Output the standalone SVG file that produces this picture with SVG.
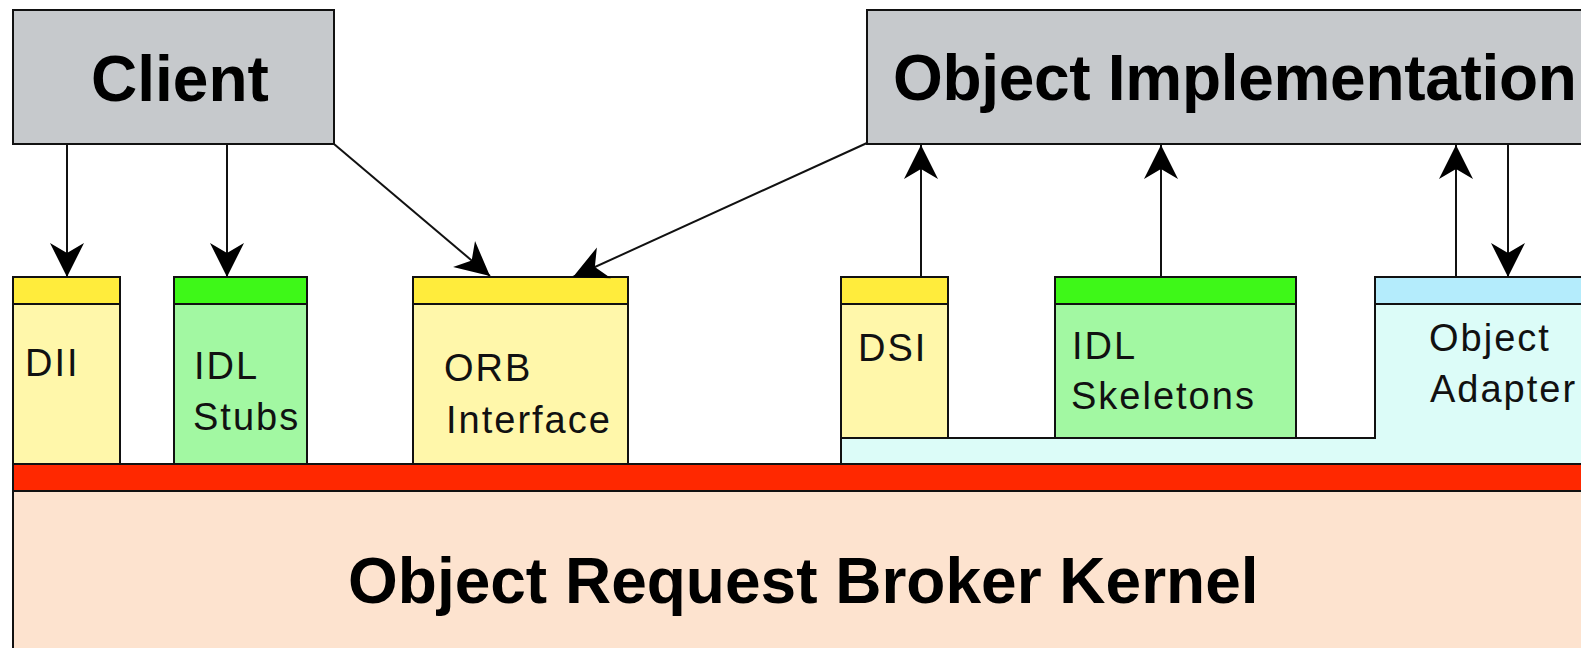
<svg xmlns="http://www.w3.org/2000/svg" width="1581" height="648" viewBox="0 0 1581 648">
<style>
.big{font-family:"Liberation Sans",Arial,sans-serif;font-weight:bold;font-size:64px;fill:#000}
.sm{font-family:"Liberation Sans",Arial,sans-serif;font-size:38px;letter-spacing:2px;fill:#111}
.bx{stroke:#111;stroke-width:2}
.gray{fill:#c6c9cc}
.yb{fill:#ffec3c}.yl{fill:#fff7aa}
.gb{fill:#3ef818}.gl{fill:#a2f8a2}
.cb{fill:#b4ecfc}.cl{fill:#dcfcf8}
.ln{stroke:#111;stroke-width:2;fill:none;marker-end:url(#ah)}
</style>
<defs>
<marker id="ah" markerUnits="userSpaceOnUse" markerWidth="40" markerHeight="40" viewBox="-36 -20 40 40" refX="0" refY="0" orient="auto">
<path d="M0,0 L-34,-17 L-24,0 L-34,17 Z" fill="#000"/>
</marker>
</defs>
<rect width="1581" height="648" fill="#fff"/>

<g id="kernel">
<rect class="bx" x="13" y="491" width="1580" height="170" fill="#fde3cf"/>
<text class="big" x="348" y="603">Object Request Broker Kernel</text>
</g>
<g id="orb-bar">
<rect class="bx" x="13" y="464" width="1580" height="27" fill="#ff2800"/>
</g>

<g id="object-adapter">
<path class="bx cl" d="M841,464 V438 H1375 V277 H1595 V464 Z"/>
<rect class="bx cb" x="1375" y="277" width="220" height="27"/>
<text class="sm" x="1429" y="351">Object</text>
<text class="sm" x="1430" y="402">Adapter</text>
</g>

<g id="dii">
<rect class="bx yl" x="13" y="304" width="107" height="160"/>
<rect class="bx yb" x="13" y="277" width="107" height="27"/>
<text class="sm" x="25" y="376">DII</text>
</g>
<g id="idl-stubs">
<rect class="bx gl" x="174" y="304" width="133" height="160"/>
<rect class="bx gb" x="174" y="277" width="133" height="27"/>
<text class="sm" x="194" y="379">IDL</text>
<text class="sm" x="193" y="430">Stubs</text>
</g>
<g id="orb-interface">
<rect class="bx yl" x="413" y="304" width="215" height="160"/>
<rect class="bx yb" x="413" y="277" width="215" height="27"/>
<text class="sm" x="444" y="381">ORB</text>
<text class="sm" x="446" y="433">Interface</text>
</g>
<g id="dsi">
<rect class="bx yl" x="841" y="304" width="107" height="134"/>
<rect class="bx yb" x="841" y="277" width="107" height="27"/>
<text class="sm" x="858" y="361">DSI</text>
</g>
<g id="idl-skeletons">
<rect class="bx gl" x="1055" y="304" width="241" height="134"/>
<rect class="bx gb" x="1055" y="277" width="241" height="27"/>
<text class="sm" x="1072" y="359">IDL</text>
<text class="sm" x="1071" y="409">Skeletons</text>
</g>

<g id="client">
<rect class="bx gray" x="13" y="10" width="321" height="134"/>
<text class="big" x="91" y="101">Client</text>
</g>
<g id="object-implementation">
<rect class="bx gray" x="867" y="10" width="730" height="134"/>
<text class="big" x="893" y="100" style="letter-spacing:-0.3px">Object Implementation</text>
</g>

<g id="connectors">
<line class="ln" x1="67" y1="144" x2="67" y2="277"/>
<line class="ln" x1="227" y1="144" x2="227" y2="277"/>
<line class="ln" x1="334" y1="144" x2="490" y2="276"/>
<line class="ln" x1="867" y1="143" x2="573" y2="277"/>
<line class="ln" x1="921" y1="277" x2="921" y2="145"/>
<line class="ln" x1="1161" y1="277" x2="1161" y2="145"/>
<line class="ln" x1="1456" y1="277" x2="1456" y2="145"/>
<line class="ln" x1="1508" y1="144" x2="1508" y2="277"/>
</g>
</svg>
